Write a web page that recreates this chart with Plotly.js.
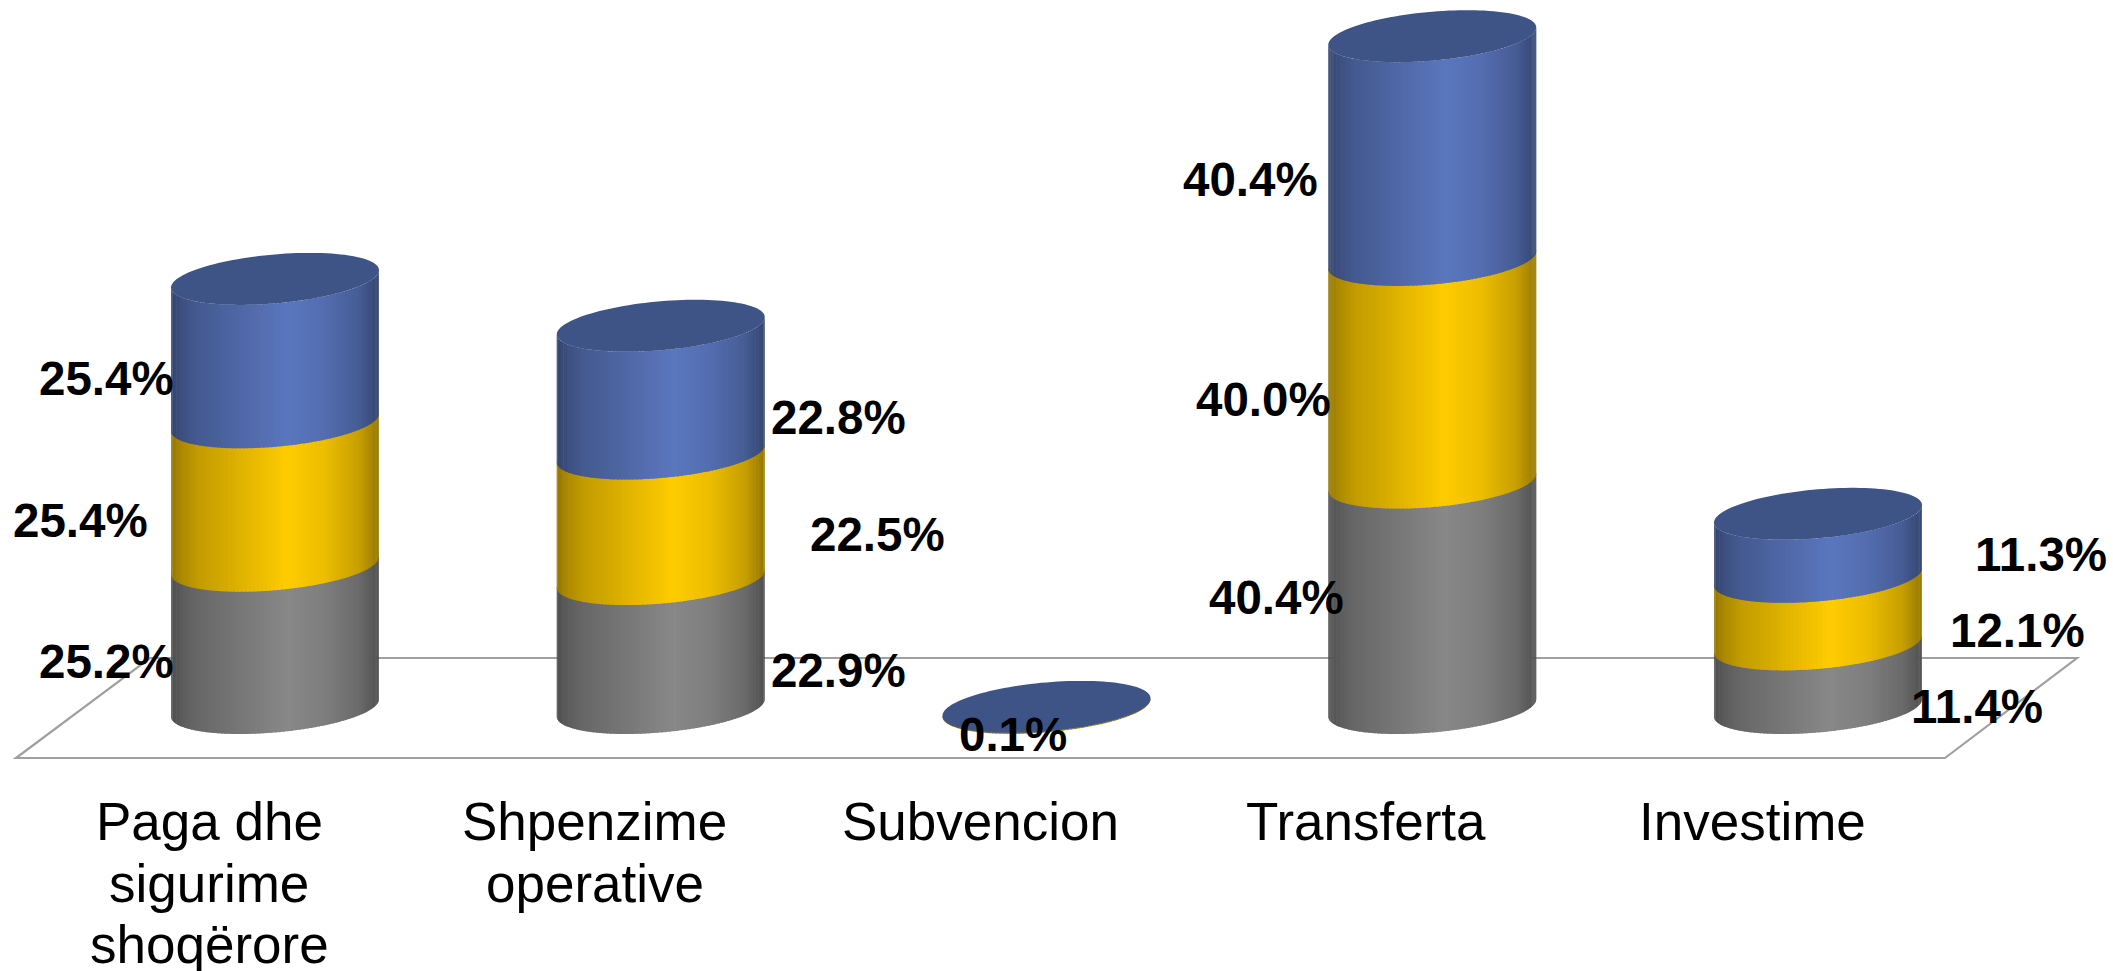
<!DOCTYPE html>
<html>
<head>
<meta charset="utf-8">
<script src="https://cdn.plot.ly/plotly-3.0.1.min.js"></script>
<style>html,body{margin:0;padding:0;background:#fff}#chart{width:2113px;height:971px}</style>
</head>
<body>
<div id="chart"></div>
<script>
// ---- data ----
const categories = [["Paga dhe", "sigurime", "shoqërore"], ["Shpenzime", "operative"], ["Subvencion"], ["Transferta"], ["Investime"]];
// drawn heights as measured on the picture
const seriesGray = [25.5, 23.1, 0, 40.4, 11.4];
const seriesGold = [25.7, 22.5, 0.1, 39.9, 12.1];
const seriesBlue = [25.7, 22.9, 0.1, 40.1, 11.3];
// printed labels
const labelsGray = ["25.2%", "22.9%", "", "40.4%", "11.4%"];
const labelsGold = ["25.4%", "22.5%", "", "40.0%", "12.1%"];
const labelsBlue = ["25.4%", "22.8%", "0.1%", "40.4%", "11.3%"];

// ---- label placement (px offsets from the segment middle) ----
const shiftGray = [[-169,-25],[178,-27],[0,0],[-156,-2],[159,-30]];
const shiftGold = [[-195,-26],[217,-18],[0,0],[-169,-28],[199,-20]];
const shiftBlue = [[-169,-28],[178,-28],[-34,-27],[-182,-31],[223,-9]];

// ---- layout geometry ----
const W = 2113, H = 971, plotBottom = 785;
const pxPerCat = 385.75, firstCx = 275;
const pxPerUnit = 5.58, basePx = 708;
const xRange = [-firstCx / pxPerCat, (W - firstCx) / pxPerCat];
const yRange = [(basePx - plotBottom) / pxPerUnit, basePx / pxPerUnit];
const A = 104 / pxPerCat;         // half width of a cylinder
const S = 8.7 / pxPerUnit;        // tilt of the ellipse
const B = 24.5 / pxPerUnit;       // minor half height
const BANDS = 80;
const catLabelOffset = -66 / pxPerCat;  // category text sits left of its bar
const catLineCentres = [821, 883, 944]; // px from the top

// shading profile across the cylinder: [position, lightness]
const shade = [[0,0.58],[0.05,0.68],[0.12,0.76],[0.55,1],[0.72,0.93],[0.9,0.78],[1,0.58]];
function lightness(p){
  for (let i = 1; i < shade.length; i++){
    if (p <= shade[i][0]){
      const f = (p - shade[i-1][0]) / (shade[i][0] - shade[i-1][0]);
      return shade[i-1][1] + f * (shade[i][1] - shade[i-1][1]);
    }
  }
  return shade[shade.length-1][1];
}
const peakColors = {gray:[136,136,136], gold:[255,204,0], blue:[90,118,190]};
function bandColor(rgb, p){
  const l = lightness(p);
  return "rgb(" + rgb.map(c => Math.round(c * l)).join(",") + ")";
}

const stack = [
  {values: seriesGray, labels: labelsGray, shifts: shiftGray, rgb: peakColors.gray},
  {values: seriesGold, labels: labelsGold, shifts: shiftGold, rgb: peakColors.gold},
  {values: seriesBlue, labels: labelsBlue, shifts: shiftBlue, rgb: peakColors.blue}
];

const traces = [], annotations = [];
const frontArc = u => S * u - B * Math.sqrt(Math.max(0, 1 - u * u));
const cumulative = categories.map(() => 0);

stack.forEach((s, level) => {
  const starts = cumulative.slice();
  s.values.forEach((v, i) => { cumulative[i] += v; });
  for (let b = 0; b < BANDS; b++){
    const u0 = -Math.cos(Math.PI * b / BANDS);
    const u1 = -Math.cos(Math.PI * Math.min(BANDS, b + 1.4) / BANDS);
    const xs = [], ys = [];
    categories.forEach((c, i) => {
      const v = s.values[i];
      if (v <= 0) return;
      const lo = starts[i];
      const hi = cumulative[i] + (level < stack.length - 1 ? 0.25 : 0);
      xs.push(i + A*u0, i + A*u1, i + A*u1, i + A*u0, i + A*u0, null);
      ys.push(lo + frontArc(u0), lo + frontArc(u1), hi + frontArc(u1), hi + frontArc(u0), lo + frontArc(u0), null);
    });
    traces.push({
      type: "scatter", mode: "none", x: xs, y: ys, fill: "toself",
      fillcolor: bandColor(s.rgb, (u0 + 1) / 2), hoverinfo: "skip", showlegend: false
    });
  }
  s.values.forEach((v, i) => {
    if (!s.labels[i]) return;
    annotations.push({
      x: i, y: starts[i] + v / 2, xref: "x", yref: "y",
      text: "<b>" + s.labels[i] + "</b>", showarrow: false, xanchor: "center", yanchor: "middle",
      xshift: s.shifts[i][0], yshift: s.shifts[i][1],
      font: {family: "Liberation Sans, Arial, sans-serif", size: 47.5, color: "#000"}
    });
  });
});

// category names, one annotation per line for the tight line spacing of the original
categories.forEach((lines, i) => {
  lines.forEach((line, k) => {
    annotations.push({
      x: i + catLabelOffset, xref: "x",
      y: (plotBottom - catLineCentres[k]) / plotBottom, yref: "paper",
      text: line, showarrow: false, xanchor: "center", yanchor: "middle",
      font: {family: "Liberation Sans, Arial, sans-serif", size: 53, color: "#000"}
    });
  });
});

// top caps
const capX = [], capY = [];
categories.forEach((c, i) => {
  for (let k = 0; k <= 120; k++){
    const t = 2 * Math.PI * k / 120;
    capX.push(i + A * Math.cos(t));
    capY.push(cumulative[i] + S * Math.cos(t) + B * Math.sin(t));
  }
  capX.push(null); capY.push(null);
});
traces.push({type:"scatter", mode:"none", x:capX, y:capY, fill:"toself", fillcolor:"#3e5486", hoverinfo:"skip", showlegend:false});

// floor of the 3D plot, in paper coordinates
const px = v => (v / W).toFixed(5);
const py = v => ((plotBottom - v) / plotBottom).toFixed(5);
const floorPath = "M" + px(16) + "," + py(758) + " L" + px(1945) + "," + py(758) +
                  " L" + px(2077) + "," + py(658) + " L" + px(150) + "," + py(658) + " Z";

const layout = {
  width: W, height: H,
  margin: {l: 0, r: 0, t: 0, b: H - plotBottom, pad: 0},
  paper_bgcolor: "#fff", plot_bgcolor: "#fff",
  showlegend: false,
  xaxis: {range: xRange, showgrid: false, zeroline: false, showline: false, ticks: "", showticklabels: false, fixedrange: true},
  yaxis: {range: yRange, visible: false, fixedrange: true},
  shapes: [{type:"path", xref:"paper", yref:"paper", path: floorPath, line:{color:"#a0a0a0", width:2.2}, fillcolor:"rgba(0,0,0,0)", layer:"below"}],
  annotations: annotations
};
Plotly.newPlot("chart", traces, layout, {displayModeBar: false, staticPlot: true});
</script>
</body>
</html>
